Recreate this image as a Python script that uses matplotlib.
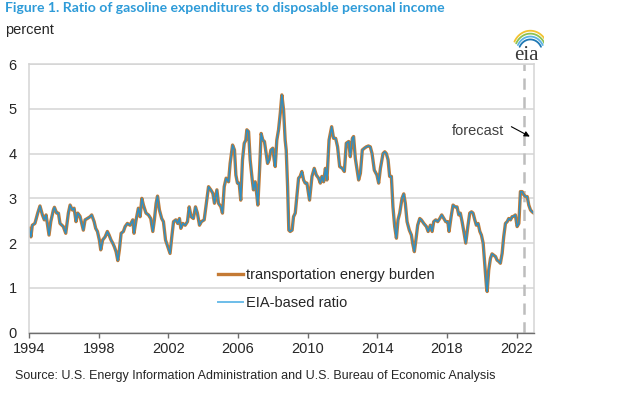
import numpy as np
import matplotlib
matplotlib.use("Agg")
import matplotlib.pyplot as plt

plt.rcParams['font.family'] = ['Liberation Sans', 'DejaVu Sans']

# monthly-ish points (decimal year, percent)
years = [
    1994.00, 1994.11, 1994.19, 1994.34, 1994.50, 1994.63, 1994.77, 1994.88, 1994.98,
    1995.07, 1995.15, 1995.25, 1995.40, 1995.46, 1995.59, 1995.69, 1995.78, 1995.97,
    1996.11, 1996.26, 1996.36, 1996.49, 1996.59, 1996.70, 1996.80, 1996.93,
    1997.03, 1997.12, 1997.22, 1997.35, 1997.51, 1997.60, 1997.74, 1997.83, 1997.93,
    1998.04, 1998.12, 1998.23, 1998.37, 1998.50, 1998.60, 1998.71, 1998.81, 1998.90,
    1999.00, 1999.10, 1999.19, 1999.29, 1999.42, 1999.52, 1999.65, 1999.80, 1999.96,
    2000.03, 2000.15, 2000.28, 2000.38, 2000.48, 2000.57, 2000.72, 2000.86, 2000.99,
    2001.11, 2001.20, 2001.30, 2001.38, 2001.49, 2001.62, 2001.72, 2001.84, 2001.97,
    2002.10, 2002.20, 2002.30, 2002.43, 2002.54, 2002.64, 2002.72, 2002.83, 2002.97,
    2003.10, 2003.20, 2003.31, 2003.44, 2003.56, 2003.67, 2003.79, 2003.90,
    2004.06, 2004.17, 2004.31, 2004.44, 2004.56, 2004.65, 2004.79, 2004.88,
    2005.02, 2005.11, 2005.21, 2005.32, 2005.46, 2005.55, 2005.69, 2005.80, 2005.88, 2005.97,
    2006.07, 2006.16, 2006.26, 2006.36, 2006.45, 2006.51, 2006.61, 2006.70, 2006.82, 2006.89, 2006.99,
    2007.08, 2007.14, 2007.24, 2007.33, 2007.43, 2007.52, 2007.62, 2007.70, 2007.79, 2007.89,
    2008.00, 2008.08, 2008.14, 2008.23, 2008.33, 2008.43, 2008.52, 2008.62, 2008.71, 2008.77, 2008.85, 2008.92,
    2009.00, 2009.11, 2009.19, 2009.29, 2009.38, 2009.48, 2009.57, 2009.67, 2009.77, 2009.86, 2009.96,
    2010.11, 2010.25, 2010.38, 2010.50, 2010.63, 2010.73, 2010.82, 2010.92,
    2011.02, 2011.11, 2011.23, 2011.38, 2011.49, 2011.61, 2011.72, 2011.84, 2011.99,
    2012.11, 2012.22, 2012.36, 2012.45, 2012.57, 2012.64, 2012.74, 2012.84, 2012.93,
    2013.03, 2013.14, 2013.26, 2013.37, 2013.49, 2013.60, 2013.70, 2013.83, 2013.98,
    2014.08, 2014.18, 2014.33, 2014.43, 2014.52, 2014.62, 2014.71, 2014.81, 2014.90,
    2015.00, 2015.10, 2015.19, 2015.29, 2015.42, 2015.52, 2015.61, 2015.71, 2015.84, 2015.96,
    2016.03, 2016.13, 2016.23, 2016.32, 2016.44, 2016.53, 2016.67, 2016.82, 2016.92,
    2017.05, 2017.15, 2017.24, 2017.36, 2017.47, 2017.59, 2017.70, 2017.82, 2017.93,
    2018.05, 2018.12, 2018.24, 2018.35, 2018.47, 2018.58, 2018.68, 2018.77, 2018.87, 2018.97,
    2019.08, 2019.20, 2019.31, 2019.41, 2019.50, 2019.60, 2019.69, 2019.79, 2019.89, 2019.98,
    2020.08, 2020.17, 2020.27, 2020.31, 2020.40, 2020.50, 2020.59, 2020.69, 2020.79, 2020.88, 2020.98,
    2021.07, 2021.17, 2021.26, 2021.36, 2021.46, 2021.55, 2021.65, 2021.74, 2021.84, 2021.93,
    2022.03, 2022.13, 2022.22, 2022.32, 2022.41, 2022.51, 2022.61, 2022.70, 2022.80, 2022.89, 2022.99,
]
burden = [
    2.33, 2.14, 2.40, 2.44, 2.67, 2.83, 2.63, 2.52, 2.63,
    2.40, 2.18, 2.48, 2.74, 2.80, 2.67, 2.67, 2.44, 2.37,
    2.22, 2.67, 2.85, 2.74, 2.78, 2.48, 2.67, 2.60,
    2.44, 2.29, 2.52, 2.55, 2.59, 2.63, 2.48, 2.33, 2.26,
    2.07, 1.85, 2.07, 2.14, 2.26, 2.18, 2.07, 2.00, 1.92,
    1.81, 1.61, 1.85, 2.22, 2.26, 2.37, 2.44, 2.40, 2.52,
    2.22, 2.52, 2.78, 2.59, 3.00, 2.85, 2.67, 2.63, 2.55,
    2.26, 2.52, 2.89, 3.05, 2.74, 2.55, 2.48, 2.07, 1.92,
    1.77, 2.14, 2.48, 2.52, 2.44, 2.55, 2.33, 2.44, 2.40,
    2.48, 2.81, 2.59, 2.55, 2.81, 2.67, 2.40, 2.48,
    2.52, 2.85, 3.26, 3.19, 3.11, 2.89, 3.19, 2.89,
    2.81, 2.67, 3.26, 3.45, 3.37, 3.78, 4.19, 4.08, 3.52, 3.34,
    3.34, 2.96, 3.86, 4.23, 4.30, 4.53, 4.49, 3.86, 3.41, 3.19, 3.37,
    3.08, 2.85, 3.63, 4.45, 4.30, 4.27, 4.00, 3.78, 3.86, 4.08,
    4.12, 3.86, 3.71, 4.30, 4.53, 4.90, 5.31, 4.97, 4.30, 4.08, 3.26, 2.29,
    2.26, 2.29, 2.59, 2.67, 3.04, 3.45, 3.49, 3.60, 3.41, 3.34, 3.34,
    2.96, 3.49, 3.67, 3.52, 3.45, 3.34, 3.49, 3.37,
    3.67, 3.41, 4.30, 4.60, 4.34, 4.34, 4.15, 3.71, 3.67,
    3.60, 4.23, 4.27, 3.93, 4.34, 4.38, 3.89, 3.63, 3.41,
    3.56, 4.08, 4.12, 4.15, 4.17, 4.15, 4.00, 3.63, 3.52,
    3.34, 3.67, 4.00, 4.04, 4.00, 3.86, 3.49, 3.49, 2.81,
    2.37, 2.11, 2.52, 2.67, 3.00, 3.10, 2.89, 2.48, 2.29, 2.18,
    2.00, 1.81, 2.11, 2.40, 2.55, 2.52, 2.44, 2.37, 2.26,
    2.40, 2.26, 2.48, 2.52, 2.48, 2.55, 2.63, 2.55, 2.48,
    2.48, 2.26, 2.59, 2.85, 2.81, 2.81, 2.63, 2.67, 2.48, 2.26,
    2.00, 2.37, 2.67, 2.70, 2.67, 2.52, 2.40, 2.44, 2.26, 2.18,
    2.00, 1.55, 1.03, 0.92, 1.40, 1.66, 1.76, 1.73, 1.70, 1.62, 1.59,
    1.55, 1.77, 2.14, 2.44, 2.48, 2.55, 2.52, 2.59, 2.60, 2.63,
    2.37, 2.44, 3.15, 3.15, 3.08, 3.04, 3.04, 2.85, 2.74, 2.70, 2.67,
]
eia_ratio = list(burden)  # the two series sit on top of each other

xticks = [1994, 1998, 2002, 2006, 2010, 2014, 2018, 2022]
yticks = [0, 1, 2, 3, 4, 5, 6]
forecast_start = 2022.42

orange = '#C47A34'
blue = '#2F8FC2'
grid = '#D4D4D4'

fig = plt.figure(figsize=(6.2, 3.96), dpi=100)
ax = fig.add_axes([29 / 620, 1 - 332.7 / 396, 505 / 620, 268.7 / 396])

ax.plot(years, burden, color=orange, lw=2.4, solid_joinstyle='round',
        label='transportation energy burden')
ax.plot(years, eia_ratio, color=blue, lw=1.1, solid_joinstyle='round',
        label='EIA-based ratio')

ax.axvline(forecast_start, color='#BDBDBD', lw=1.8, ls=(0, (4.5, 3)), zorder=1)

ax.set_xlim(1994, 2023)
ax.set_ylim(0, 6)
ax.set_xticks(xticks)
ax.set_yticks(yticks)
ax.yaxis.grid(True, color=grid, lw=1.1)
ax.set_axisbelow(True)
for s in ['top', 'right', 'left']:
    ax.spines[s].set_color(grid)
    ax.spines[s].set_linewidth(1.1)
ax.spines['bottom'].set_color('#6E6E6E')
ax.spines['bottom'].set_linewidth(1.0)
ax.tick_params(axis='y', length=0, pad=9, labelsize=10.5, labelcolor='#262626')
ax.tick_params(axis='x', length=3.5, width=1.0, color='#6E6E6E', pad=3,
               labelsize=10.5, labelcolor='#262626')

leg = ax.legend(loc='lower left', bbox_to_anchor=(0.374, 0.085), frameon=False,
                borderpad=0, borderaxespad=0, handlelength=1.75,
                handletextpad=0.15, labelspacing=0.95, fontsize=10.5)
for t in leg.get_texts():
    t.set_color('#262626')
leg.get_lines()[1].set_color('#6CBDE9')
leg.get_lines()[1].set_linewidth(1.4)

ax.text(2021.28, 4.5, 'forecast', ha='right', va='center', fontsize=10.5, color='#404040')
ax.annotate('', xy=(2022.76, 4.38), xytext=(2021.7, 4.6),
            arrowprops=dict(arrowstyle='-|>', color='black', lw=0.8,
                            mutation_scale=8, shrinkA=0, shrinkB=0))

fig.text(5 / 620, 1 - 8 / 396, 'Figure 1. Ratio of gasoline expenditures to disposable personal income',
         fontsize=10.1, fontweight='bold', color='#2E9BD8', va='center', ha='left',
         family=['Lato', 'DejaVu Sans'])
fig.text(5 / 620, 1 - 30 / 396, 'percent', fontsize=10.5, color='#262626', va='center')
fig.text(15 / 620, 1 - 376 / 396,
         'Source: U.S. Energy Information Administration and U.S. Bureau of Economic Analysis',
         fontsize=9.0, color='#262626', va='center')

# eia logo
lg = fig.add_axes([508 / 620, 1 - 66 / 396, 36 / 620, 40 / 396])
lg.set_xlim(0, 1)
lg.set_ylim(0, 1.1)
lg.axis('off')
lg.text(0.5, 0.02, 'eia', ha='center', va='bottom', fontsize=15,
        family=['Liberation Serif', 'DejaVu Serif'], color='#3A3A3A')
t = np.linspace(0.15, 0.85, 30)
for i, c in enumerate(['#F2C230', '#8CC152', '#5DB3E3', '#1F78B4']):
    r = 0.55 - i * 0.06
    lg.plot(0.62 + r * np.cos(np.pi * t) * 0.9, 0.42 + r * np.sin(np.pi * t) * 1.0 - i * 0.02,
            color=c, lw=1.3, solid_capstyle='round')

fig.savefig('out.png', dpi=100)
